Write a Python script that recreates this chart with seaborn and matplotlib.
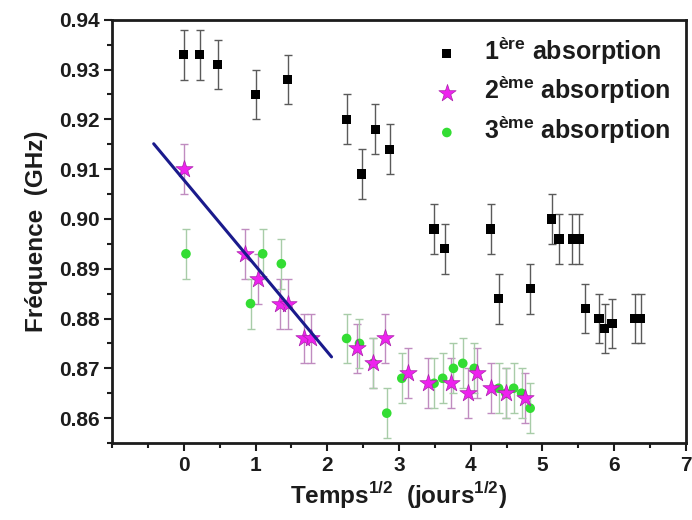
import matplotlib
matplotlib.use("Agg")
import matplotlib.pyplot as plt
import seaborn as sns
import pandas as pd

# 1ère absorption
x1 = [0.0, 0.22, 0.47, 1.0, 1.45, 2.27, 2.48, 2.67, 2.87, 3.49, 3.64, 4.28, 4.39,
      4.83, 5.13, 5.23, 5.42, 5.51, 5.60, 5.79, 5.87, 5.97, 6.29, 6.37]
y1 = [0.933, 0.933, 0.931, 0.925, 0.928, 0.920, 0.909, 0.918, 0.914, 0.898, 0.894,
      0.898, 0.884, 0.886, 0.900, 0.896, 0.896, 0.896, 0.882, 0.880, 0.878, 0.879,
      0.880, 0.880]

# 2ème absorption
x2 = [0.0, 0.86, 1.03, 1.34, 1.45, 1.67, 1.77, 2.42, 2.64, 2.81, 3.12, 3.41, 3.73,
      3.96, 4.09, 4.28, 4.49, 4.76]
y2 = [0.910, 0.893, 0.888, 0.883, 0.883, 0.876, 0.876, 0.874, 0.871, 0.876, 0.869,
      0.867, 0.867, 0.865, 0.869, 0.866, 0.865, 0.864]

# 3ème absorption
x3 = [0.03, 0.93, 1.10, 1.36, 2.27, 2.45, 2.64, 2.83, 3.04, 3.49, 3.61, 3.76, 3.89,
      4.05, 4.39, 4.49, 4.60, 4.71, 4.83]
y3 = [0.893, 0.883, 0.893, 0.891, 0.876, 0.875, 0.871, 0.861, 0.868, 0.867, 0.868,
      0.870, 0.871, 0.870, 0.866, 0.865, 0.866, 0.865, 0.862]

err = 0.005

# linear fit drawn on the 2nd absorption
fit_x = [-0.42, 2.06]
fit_y = [0.9151, 0.8723]

sns.set_style("ticks")
plt.rcParams['font.family'] = ['Liberation Sans', 'DejaVu Sans']
plt.rcParams['font.weight'] = 'bold'
plt.rcParams['text.color'] = '#1c1c1c'
plt.rcParams['axes.labelcolor'] = '#1c1c1c'
plt.rcParams['xtick.color'] = '#1c1c1c'
plt.rcParams['ytick.color'] = '#1c1c1c'

fig, ax = plt.subplots(figsize=(6.92, 5.2), dpi=100)
fig.subplots_adjust(left=0.162, right=0.991, top=0.962, bottom=0.148)

ax.errorbar(x1, y1, yerr=err, fmt='none', ecolor='#5a5a5a', elinewidth=1, capsize=3, zorder=1)
ax.errorbar(x2, y2, yerr=err, fmt='none', ecolor='#c08cc0', elinewidth=1, capsize=3, zorder=1)
ax.errorbar(x3, y3, yerr=err, fmt='none', ecolor='#a8cca8', elinewidth=1, capsize=3, zorder=1)

df1 = pd.DataFrame({'t': x1, 'f': y1})
df2 = pd.DataFrame({'t': x2, 'f': y2})
df3 = pd.DataFrame({'t': x3, 'f': y3})

sns.scatterplot(data=df1, x='t', y='f', marker='s', s=45, color='black',
                edgecolor='none', ax=ax, label='1$^{\\mathregular{ère}}$ absorption', zorder=3)
sns.scatterplot(data=df2, x='t', y='f', marker='*', s=170, color='#ee22ee',
                edgecolor='#aa22aa', linewidth=0.5, ax=ax,
                label='2$^{\\mathregular{ème}}$ absorption', zorder=4)
sns.scatterplot(data=df3, x='t', y='f', marker='o', s=48, color='#33dd33',
                edgecolor='none', ax=ax, label='3$^{\\mathregular{ème}}$ absorption', zorder=3)

sns.lineplot(x=fit_x, y=fit_y, color='#1a1a8c', linewidth=2.2, ax=ax, zorder=5)

ax.set_xlim(-1, 7)
ax.set_ylim(0.8554, 0.94)
ax.set_xticks([0, 1, 2, 3, 4, 5, 6, 7])
ax.set_xticks([-1, -0.5, 0.5, 1.5, 2.5, 3.5, 4.5, 5.5, 6.5], minor=True)
ax.set_yticks([0.86, 0.87, 0.88, 0.89, 0.90, 0.91, 0.92, 0.93, 0.94])
ax.set_yticklabels(['0.86', '0.87', '0.88', '0.89', '0.90', '0.91', '0.92', '0.93', '0.94'])
ax.set_yticks([0.855, 0.865, 0.875, 0.885, 0.895, 0.905, 0.915, 0.925, 0.935], minor=True)
ax.tick_params(which='major', length=6, width=1.5, labelsize=15, direction='out', pad=3)
ax.tick_params(which='minor', length=3.5, width=1.5, direction='out')
for sp in ax.spines.values():
    sp.set_linewidth(2)
    sp.set_visible(True)
    sp.set_color('#1c1c1c')

ax.set_xlabel('Temps$^{\\mathregular{1/2}}$  (jours$^{\\mathregular{1/2}}$)', fontsize=17.5,
              fontweight='bold', labelpad=4)
ax.set_ylabel('Fréquence  (GHz)', fontsize=17.5, fontweight='bold', labelpad=8)

leg = ax.legend(loc='upper right', frameon=False, fontsize=18, handletextpad=0.5,
                labelspacing=0.3, borderaxespad=0.2, markerscale=1.0)

fig.savefig('out.png', dpi=100)
